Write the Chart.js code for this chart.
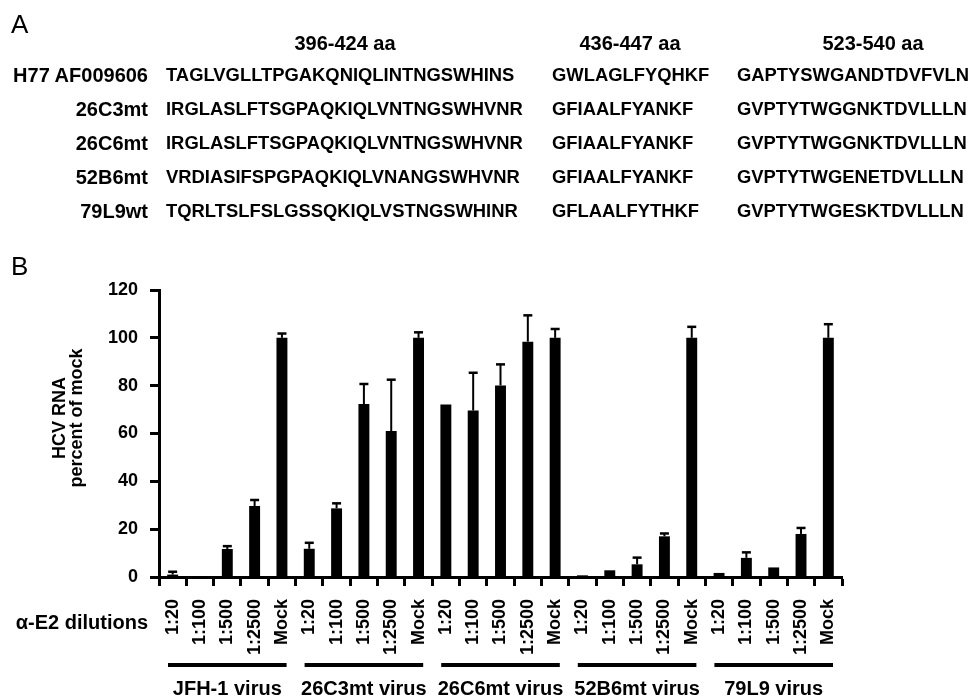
<!DOCTYPE html>
<html>
<head>
<meta charset="utf-8">
<script src="https://cdn.jsdelivr.net/npm/chart.js@4.4.1/dist/chart.umd.min.js"></script>
<style>
    body { margin: 0; background: #fff; }
    #wrap { position: relative; width: 970px; height: 698px; font-family: "Liberation Sans", Arial, sans-serif; color: #000; }
    #wrap canvas { position: absolute; left: 0; top: 0; }
    .t { position: absolute; white-space: nowrap; font-weight: bold; line-height: 24px; height: 24px; }
    .hdr { font-size: 20px; transform: translateX(-50%); }
    .lbl { font-size: 20px; text-align: right; }
    .seq { font-size: 18.4px; }
    .panel { position: absolute; font-size: 26px; line-height: 30px; }
</style>
</head>
<body>
<div id="wrap">
    <canvas id="myChart" width="970" height="698"></canvas>
    <div class="panel" style="left:11px; top:9px;">A</div>
    <div id="tableA"></div>
</div>
<script>
// panel A: sequence alignment
const regionHeaders = ["396-424 aa", "436-447 aa", "523-540 aa"];
const strainNames = ["H77 AF009606", "26C3mt", "26C6mt", "52B6mt", "79L9wt"];
const region1 = [
    "TAGLVGLLTPGAKQNIQLINTNGSWHINS",
    "IRGLASLFTSGPAQKIQLVNTNGSWHVNR",
    "IRGLASLFTSGPAQKIQLVNTNGSWHVNR",
    "VRDIASIFSPGPAQKIQLVNANGSWHVNR",
    "TQRLTSLFSLGSSQKIQLVSTNGSWHINR"
];
const region2 = ["GWLAGLFYQHKF", "GFIAALFYANKF", "GFIAALFYANKF", "GFIAALFYANKF", "GFLAALFYTHKF"];
const region3 = [
    "GAPTYSWGANDTDVFVLN",
    "GVPTYTWGGNKTDVLLLN",
    "GVPTYTWGGNKTDVLLLN",
    "GVPTYTWGENETDVLLLN",
    "GVPTYTWGESKTDVLLLN"
];

// panel B: HCV RNA, percent of mock (mean and upper SD)
const groups = ["JFH-1 virus", "26C3mt virus", "26C6mt virus", "52B6mt virus", "79L9 virus"];
const dilutions = ["1:20", "1:100", "1:500", "1:2500", "Mock"];
const jfh1Mean = [1.0, 0.2, 11.7, 29.7, 100];
const jfh1Sd = [1.2, 0, 1.2, 2.5, 1.8];
const c3mtMean = [11.8, 28.7, 72.3, 61.0, 100];
const c3mtSd = [2.5, 2.1, 8.4, 21.5, 2.3];
const c6mtMean = [72.1, 69.6, 80.1, 98.4, 100];
const c6mtSd = [0, 15.8, 8.8, 11.0, 3.7];
const b6mtMean = [0.7, 2.8, 5.3, 17.0, 100];
const b6mtSd = [0, 0, 2.8, 1.2, 4.6];
const l9Mean = [1.7, 8.0, 4.0, 18.0, 100];
const l9Sd = [0, 2.3, 0, 2.5, 5.7];
const yTicks = [0, 20, 40, 60, 80, 100, 120];

const FONT = '"Liberation Sans", Arial, sans-serif';

// build the alignment table
(function buildTable() {
    const host = document.getElementById('tableA');
    const headerX = [345, 630, 873];
    const seqX = [166, 552, 737];
    const rowY = [75, 109, 143, 177, 211];
    let html = '';
    regionHeaders.forEach(function (h, i) {
        html += `<div class="t hdr" style="left:${headerX[i]}px; top:${43 - 12}px;">${h}</div>`;
    });
    strainNames.forEach(function (name, r) {
        const top = rowY[r] - 12;
        html += `<div class="t lbl" style="right:${970 - 148}px; top:${top}px;">${name}</div>`;
        [region1, region2, region3].forEach(function (col, c) {
            html += `<div class="t seq" style="left:${seqX[c]}px; top:${top}px;">${col[r]}</div>`;
        });
    });
    host.innerHTML = html;
})();

const labels = groups.flatMap(() => dilutions);
const means = [].concat(jfh1Mean, c3mtMean, c6mtMean, b6mtMean, l9Mean);
const sds = [].concat(jfh1Sd, c3mtSd, c6mtSd, b6mtSd, l9Sd);

const annotate = {
    id: 'annotate',
    afterDatasetsDraw(chart) {
        const ctx = chart.ctx;
        const y = chart.scales.y;
        const bars = chart.getDatasetMeta(0).data;
        ctx.save();
        ctx.strokeStyle = '#000';
        bars.forEach(function (bar, i) {
            if (!sds[i]) return;
            const top = y.getPixelForValue(means[i] + sds[i]);
            ctx.lineWidth = 2;
            ctx.beginPath();
            ctx.moveTo(bar.x, bar.y);
            ctx.lineTo(bar.x, top);
            ctx.stroke();
            ctx.lineWidth = 2.5;
            ctx.beginPath();
            ctx.moveTo(bar.x - 4.5, top);
            ctx.lineTo(bar.x + 4.5, top);
            ctx.stroke();
        });
        ctx.restore();
    },
    afterDraw(chart) {
        const ctx = chart.ctx;
        const x = chart.scales.x;
        ctx.save();
        ctx.fillStyle = '#000';
        ctx.strokeStyle = '#000';

        // panel letter
        ctx.font = `26px ${FONT}`;
        ctx.textAlign = 'left';
        ctx.textBaseline = 'alphabetic';
        ctx.fillText('B', 11, 275);

        // y title, two lines
        ctx.font = `bold 18px ${FONT}`;
        ctx.textAlign = 'center';
        [['HCV RNA', 65], ['percent of mock', 82]].forEach(function (line) {
            ctx.save();
            ctx.translate(line[1], 418);
            ctx.rotate(-Math.PI / 2);
            ctx.fillText(line[0], 0, 0);
            ctx.restore();
        });

        // dilution row caption
        ctx.font = `bold 20px ${FONT}`;
        ctx.textAlign = 'right';
        ctx.textBaseline = 'middle';
        ctx.fillText('\u03b1-E2 dilutions', 148, 623);

        // group brackets and names
        const step = x.getPixelForValue(1) - x.getPixelForValue(0);
        groups.forEach(function (g, gi) {
            const left = x.getPixelForValue(gi * 5) - step / 2;
            const right = x.getPixelForValue(gi * 5 + 4) + step / 2;
            ctx.lineWidth = 4;
            ctx.beginPath();
            ctx.moveTo(left + 9, 665);
            ctx.lineTo(right - 9, 665);
            ctx.stroke();
            ctx.textAlign = 'center';
            ctx.fillText(g, (left + right) / 2, 689);
        });
        ctx.restore();
    }
};

const ctx = document.getElementById('myChart').getContext('2d');
const myChart = new Chart(ctx, {
    type: 'bar',
    data: {
        labels: labels,
        datasets: [{
            data: means,
            backgroundColor: '#000',
            borderWidth: 0,
            barPercentage: 0.4,
            categoryPercentage: 1.0
        }]
    },
    options: {
        responsive: false,
        animation: false,
        layout: { padding: { left: 20, right: 128, top: 290, bottom: 0 } },
        plugins: {
            legend: { display: false },
            tooltip: { enabled: false }
        },
        scales: {
            x: {
                offset: true,
                border: { display: true, color: '#000', width: 3 },
                grid: { offset: true, drawOnChartArea: false, drawTicks: true, tickLength: 9, tickWidth: 3, tickColor: '#000' },
                ticks: {
                    autoSkip: false,
                    minRotation: 90,
                    maxRotation: 90,
                    padding: 13,
                    color: '#000',
                    font: { family: FONT, size: 18, weight: 'bold' }
                },
                afterFit: function (scale) { scale.height = 121; }
            },
            y: {
                min: 0,
                max: 120,
                afterBuildTicks: function (scale) { scale.ticks = yTicks.map(v => ({ value: v })); },
                border: { display: true, color: '#000', width: 3 },
                grid: { drawOnChartArea: false, drawTicks: true, tickLength: 9, tickWidth: 3, tickColor: '#000' },
                ticks: {
                    padding: 12,
                    color: '#000',
                    font: { family: FONT, size: 18, weight: 'bold' }
                },
                afterFit: function (scale) { scale.width = 139; }
            }
        }
    },
    plugins: [annotate]
});
</script>
</body>
</html>
